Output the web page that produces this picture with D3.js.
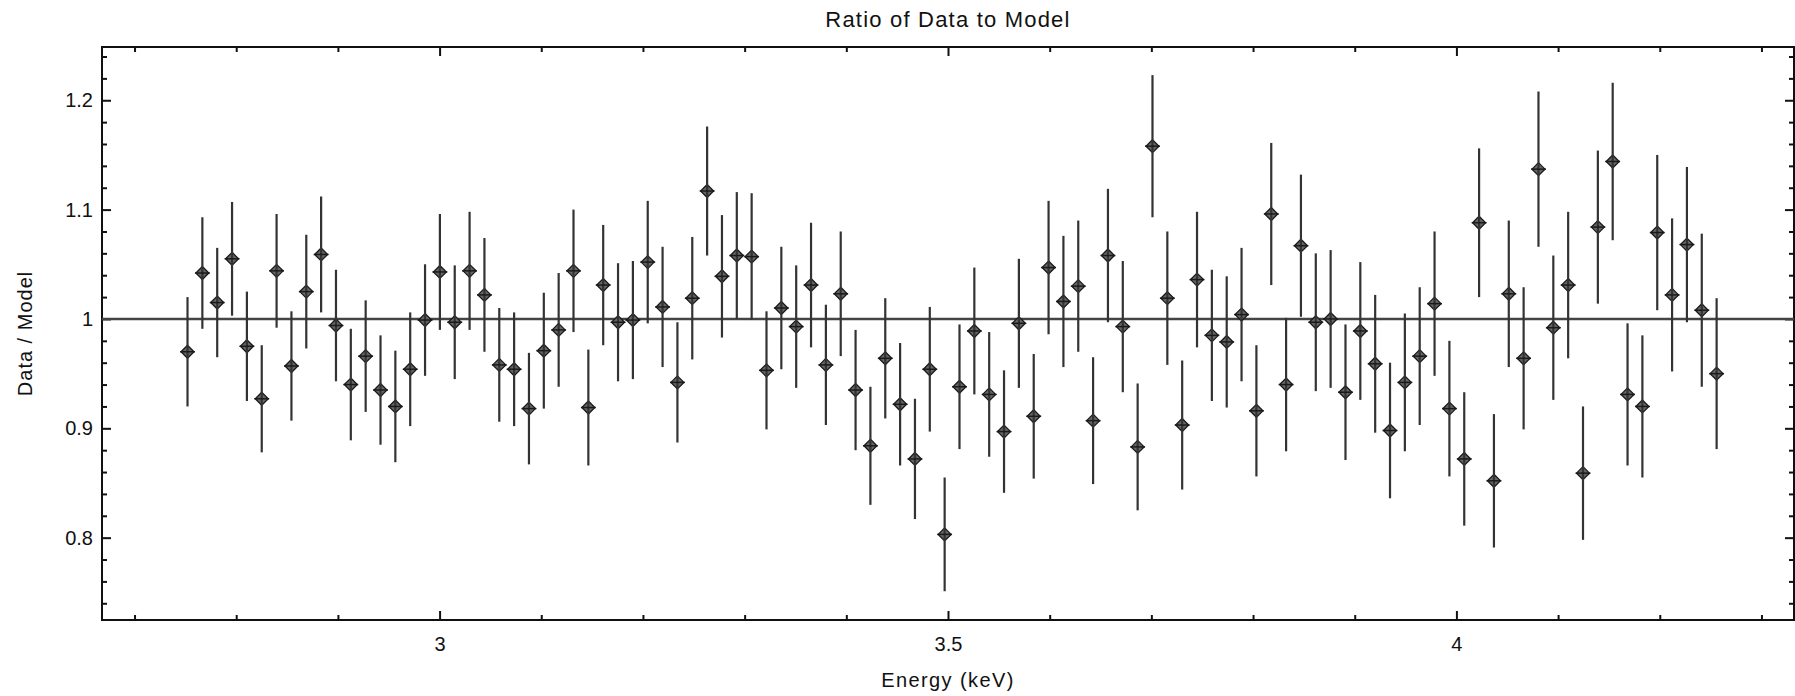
<!DOCTYPE html>
<html>
<head>
<meta charset="utf-8">
<script src="https://cdn.jsdelivr.net/npm/d3@7/dist/d3.min.js"></script>
<style>
  body { margin: 0; background: #fff; }
  text { font-family: "Liberation Sans", Arial, Helvetica, sans-serif; fill: #111; }
</style>
</head>
<body>
<div id="chart"></div>
<script>
// channel energies (keV)
const energy = [
  2.7521, 2.7667, 2.7813, 2.7959, 2.8105, 2.8251, 2.8397, 2.8543, 2.8689, 2.8835,
  2.8981, 2.9127, 2.9273, 2.9419, 2.9565, 2.9711, 2.9857, 3.0003, 3.0149, 3.0295,
  3.0441, 3.0587, 3.0733, 3.0879, 3.1025, 3.1171, 3.1317, 3.1463, 3.1609, 3.1755,
  3.1901, 3.2047, 3.2193, 3.2339, 3.2485, 3.2631, 3.2777, 3.2923, 3.3069, 3.3215,
  3.3361, 3.3507, 3.3653, 3.3799, 3.3945, 3.4091, 3.4237, 3.4383, 3.4529, 3.4675,
  3.4821, 3.4967, 3.5113, 3.5259, 3.5405, 3.5551, 3.5697, 3.5843, 3.5989, 3.6135,
  3.6281, 3.6427, 3.6573, 3.6719, 3.6865, 3.7011, 3.7157, 3.7303, 3.7449, 3.7595,
  3.7741, 3.7887, 3.8033, 3.8179, 3.8325, 3.8471, 3.8617, 3.8763, 3.8909, 3.9055,
  3.9201, 3.9347, 3.9493, 3.9639, 3.9785, 3.9931, 4.0077, 4.0223, 4.0369, 4.0515,
  4.0661, 4.0807, 4.0953, 4.1099, 4.1245, 4.1391, 4.1537, 4.1683, 4.1829, 4.1975,
  4.2121, 4.2267, 4.2413, 4.2559
];
const binHalfWidth = 0.0073;

// data / model ratio
const ratio = [
  0.970, 1.042, 1.015, 1.055, 0.975, 0.927, 1.044, 0.957, 1.025, 1.059,
  0.994, 0.940, 0.966, 0.935, 0.920, 0.954, 0.999, 1.043, 0.997, 1.044,
  1.022, 0.958, 0.954, 0.918, 0.971, 0.990, 1.044, 0.919, 1.031, 0.997,
  0.999, 1.052, 1.011, 0.942, 1.019, 1.117, 1.039, 1.058, 1.057, 0.953,
  1.010, 0.993, 1.031, 0.958, 1.023, 0.935, 0.884, 0.964, 0.922, 0.872,
  0.954, 0.803, 0.938, 0.989, 0.931, 0.897, 0.996, 0.911, 1.047, 1.016,
  1.030, 0.907, 1.058, 0.993, 0.883, 1.158, 1.019, 0.903, 1.036, 0.985,
  0.979, 1.004, 0.916, 1.096, 0.940, 1.067, 0.997, 1.000, 0.933, 0.989,
  0.959, 0.898, 0.942, 0.966, 1.014, 0.918, 0.872, 1.088, 0.852, 1.023,
  0.964, 1.137, 0.992, 1.031, 0.859, 1.084, 1.144, 0.931, 0.920, 1.079,
  1.022, 1.068, 1.008, 0.950
];

// 1-sigma errors on the ratio
const ratioErr = [
  0.050, 0.051, 0.050, 0.052, 0.050, 0.049, 0.052, 0.050, 0.052, 0.053,
  0.051, 0.051, 0.051, 0.050, 0.051, 0.052, 0.051, 0.053, 0.052, 0.054,
  0.052, 0.052, 0.052, 0.051, 0.053, 0.052, 0.056, 0.053, 0.055, 0.054,
  0.054, 0.056, 0.055, 0.055, 0.056, 0.059, 0.056, 0.058, 0.058, 0.054,
  0.056, 0.056, 0.057, 0.055, 0.057, 0.055, 0.054, 0.055, 0.056, 0.055,
  0.057, 0.052, 0.057, 0.058, 0.057, 0.056, 0.059, 0.057, 0.061, 0.060,
  0.060, 0.058, 0.061, 0.060, 0.058, 0.065, 0.061, 0.059, 0.062, 0.060,
  0.060, 0.061, 0.060, 0.065, 0.061, 0.065, 0.063, 0.063, 0.062, 0.063,
  0.063, 0.062, 0.063, 0.063, 0.066, 0.062, 0.061, 0.068, 0.061, 0.067,
  0.065, 0.071, 0.066, 0.067, 0.061, 0.070, 0.072, 0.065, 0.065, 0.071,
  0.070, 0.071, 0.070, 0.069
];

const xTickValues = [3, 3.5, 4];
const xTickLabels = ["3", "3.5", "4"];
const yTickValues = [0.8, 0.9, 1, 1.1, 1.2];
const yTickLabels = ["0.8", "0.9", "1", "1.1", "1.2"];

const width = 1795;
const height = 696;
const margin = { top: 47, right: 1, bottom: 76, left: 102 };
const innerW = width - margin.left - margin.right;
const innerH = height - margin.top - margin.bottom;

const svg = d3.select("#chart").append("svg")
  .attr("width", width)
  .attr("height", height);

const x = d3.scaleLinear().domain([2.668, 4.332]).range([0, innerW]);
const y = d3.scaleLinear().domain([0.7247, 1.2487]).range([innerH, 0]);

const g = svg.append("g").attr("transform", `translate(${margin.left},${margin.top})`);

// ticks all round, pointing inwards
const xMinor = d3.range(2.7, 4.35, 0.1).filter(v => !xTickValues.some(t => Math.abs(t - v) < 1e-6));
const yMinor = d3.range(0.74, 1.25, 0.02).filter(v => !yTickValues.some(t => Math.abs(t - v) < 1e-6));

function styleAxis(sel) {
  sel.select(".domain").remove();
  sel.selectAll(".tick line").attr("stroke", "#111").attr("stroke-width", 2);
  sel.selectAll(".tick text").style("font-size", "20px").attr("fill", "#111");
}

g.append("g").attr("transform", `translate(0,${innerH})`)
  .call(d3.axisBottom(x).tickValues(xTickValues).tickSize(-9).tickPadding(17)
    .tickFormat((d, i) => xTickLabels[i]))
  .call(styleAxis);
g.append("g").attr("transform", `translate(0,${innerH})`)
  .call(d3.axisBottom(x).tickValues(xMinor).tickSize(-5).tickFormat(""))
  .call(styleAxis);
g.append("g")
  .call(d3.axisTop(x).tickValues(xTickValues).tickSize(-9).tickFormat(""))
  .call(styleAxis);
g.append("g")
  .call(d3.axisTop(x).tickValues(xMinor).tickSize(-5).tickFormat(""))
  .call(styleAxis);

g.append("g")
  .call(d3.axisLeft(y).tickValues(yTickValues).tickSize(-9).tickPadding(9)
    .tickFormat((d, i) => yTickLabels[i]))
  .call(styleAxis);
g.append("g")
  .call(d3.axisLeft(y).tickValues(yMinor).tickSize(-5).tickFormat(""))
  .call(styleAxis);
g.append("g").attr("transform", `translate(${innerW},0)`)
  .call(d3.axisRight(y).tickValues(yTickValues).tickSize(-9).tickFormat(""))
  .call(styleAxis);
g.append("g").attr("transform", `translate(${innerW},0)`)
  .call(d3.axisRight(y).tickValues(yMinor).tickSize(-5).tickFormat(""))
  .call(styleAxis);

// frame
g.append("rect")
  .attr("width", innerW).attr("height", innerH)
  .attr("fill", "none").attr("stroke", "#111").attr("stroke-width", 2);

// model line at ratio = 1
g.append("line")
  .attr("x1", 0).attr("x2", innerW)
  .attr("y1", y(1)).attr("y2", y(1))
  .attr("stroke", "#444").attr("stroke-width", 2.5);

const points = energy.map((e, i) => ({ e: e, r: ratio[i], err: ratioErr[i] }));

const pt = g.append("g").selectAll("g")
  .data(points)
  .enter().append("g");

pt.append("path")
  .attr("d", d => {
    const cx = x(d.e), cy = y(d.r), s = 6.5;
    return `M${cx},${cy - s}L${cx + s},${cy}L${cx},${cy + s}L${cx - s},${cy}Z`;
  })
  .attr("fill", "#666")
  .attr("stroke", "#1a1a1a")
  .attr("stroke-width", 1.3);

pt.append("line")
  .attr("x1", d => x(d.e)).attr("x2", d => x(d.e))
  .attr("y1", d => y(d.r + d.err)).attr("y2", d => y(d.r - d.err))
  .attr("stroke", "#333").attr("stroke-width", 2.2);

pt.append("line")
  .attr("x1", d => x(d.e - binHalfWidth)).attr("x2", d => x(d.e + binHalfWidth))
  .attr("y1", d => y(d.r)).attr("y2", d => y(d.r))
  .attr("stroke", "#1a1a1a").attr("stroke-width", 1.5);

// titles
svg.append("text")
  .attr("x", margin.left + innerW / 2).attr("y", 27)
  .attr("text-anchor", "middle")
  .style("font-size", "22px").style("letter-spacing", "1.2px")
  .text("Ratio of Data to Model");

svg.append("text")
  .attr("x", margin.left + innerW / 2).attr("y", 687)
  .attr("text-anchor", "middle")
  .style("font-size", "20px").style("letter-spacing", "1.4px")
  .text("Energy (keV)");

svg.append("text")
  .attr("transform", `translate(32,${margin.top + innerH / 2}) rotate(-90)`)
  .attr("text-anchor", "middle")
  .style("font-size", "20px").style("letter-spacing", "1px")
  .text("Data / Model");
</script>
</body>
</html>
